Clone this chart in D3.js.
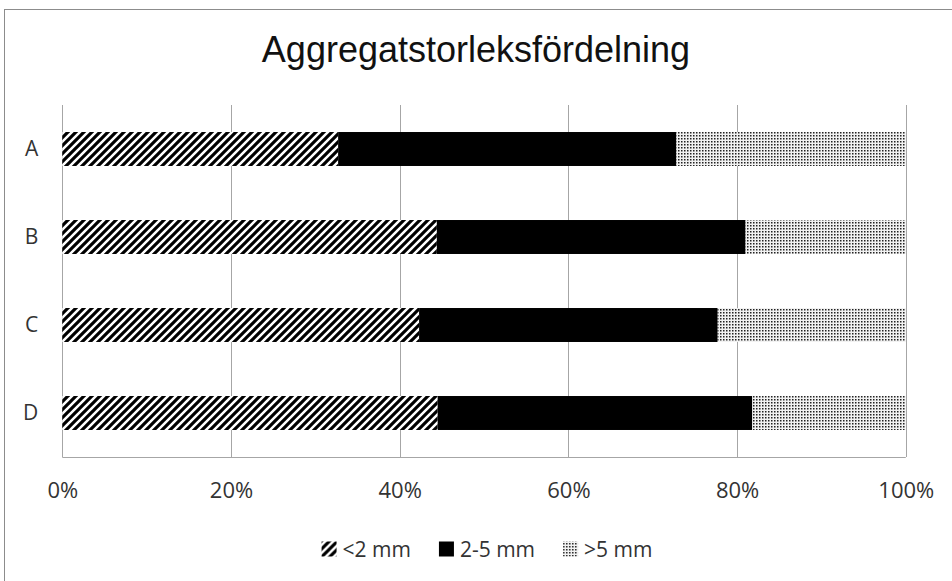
<!DOCTYPE html>
<html>
<head>
<meta charset="utf-8">
<script src="https://cdn.jsdelivr.net/npm/d3@7"></script>
<style>
  body { margin: 0; background: #fff; }
  svg { display: block; }
</style>
</head>
<body>
<svg id="chart" width="952" height="581"></svg>
<script>
// Aggregate size distribution per sample (percent of total)
const categories = ["A", "B", "C", "D"];
const seriesNames = ["<2 mm", "2-5 mm", ">5 mm"];
const fine   = [32.7, 44.4, 42.3, 44.5];   // <2 mm
const medium = [40.1, 36.6, 35.4, 37.3];   // 2-5 mm
const coarse = [27.2, 19.0, 22.3, 18.2];   // >5 mm
const xTicks = [0, 20, 40, 60, 80, 100];
const titleText = "Aggregatstorleksfördelning";

const svg = d3.select("#chart");
const plot = { left: 62.3, right: 905.8, top: 105, bottom: 457 };

// patterns for the three fractions
const defs = svg.append("defs");
const hatch = defs.append("pattern")
  .attr("id", "hatch").attr("patternUnits", "userSpaceOnUse")
  .attr("width", 8).attr("height", 8);
hatch.append("rect").attr("width", 8).attr("height", 8).attr("fill", "#fff");
hatch.append("path")
  .attr("d", "M-2,2 L2,-2 M0,8 L8,0 M6,10 L10,6")
  .attr("stroke", "#000").attr("stroke-width", 3.1);

const dots = defs.append("pattern")
  .attr("id", "dots").attr("patternUnits", "userSpaceOnUse")
  .attr("width", 3).attr("height", 3);
dots.append("rect").attr("width", 3).attr("height", 3).attr("fill", "#f2f2f2");
dots.append("rect").attr("x", 0).attr("y", 0).attr("width", 1).attr("height", 1).attr("fill", "#222");
dots.append("rect").attr("x", 1).attr("y", 0).attr("width", 1).attr("height", 1).attr("fill", "#888");
dots.append("rect").attr("x", 0).attr("y", 1).attr("width", 1).attr("height", 1).attr("fill", "#888");
dots.append("rect").attr("x", 1).attr("y", 1).attr("width", 1).attr("height", 1).attr("fill", "#bbb");

const fills = ["url(#hatch)", "#000", "url(#dots)"];

// outer chart frame
svg.append("rect")
  .attr("x", 4.5).attr("y", 9.5)
  .attr("width", 1000).attr("height", 1000)
  .attr("fill", "#fff").attr("stroke", "#8c8c8c").attr("stroke-width", 1);

// title
svg.append("text")
  .attr("x", 476).attr("y", 62)
  .attr("text-anchor", "middle")
  .attr("font-family", "'Liberation Sans', Arial, sans-serif")
  .attr("font-size", 36)
  .attr("fill", "#111")
  .text(titleText);

const x = d3.scaleLinear().domain([0, 100]).range([plot.left, plot.right]);
const y = d3.scaleBand().domain(categories)
  .range([plot.top, plot.bottom])
  .paddingInner(0.614).paddingOuter(0.307);

// vertical gridlines
svg.append("g").selectAll("line").data(xTicks).join("line")
  .attr("x1", d => Math.round(x(d)) + 0.5).attr("x2", d => Math.round(x(d)) + 0.5)
  .attr("y1", plot.top).attr("y2", plot.bottom)
  .attr("stroke", "#a6a6a6").attr("stroke-width", 1);

// bottom axis line
svg.append("line")
  .attr("x1", plot.left).attr("x2", plot.right)
  .attr("y1", plot.bottom + 0.5).attr("y2", plot.bottom + 0.5)
  .attr("stroke", "#a6a6a6");

// stacked bars
const rows = categories.map((c, i) => ({ cat: c, "<2 mm": fine[i], "2-5 mm": medium[i], ">5 mm": coarse[i] }));
const stacked = d3.stack().keys(seriesNames)(rows);

svg.append("g").selectAll("g").data(stacked).join("g")
  .attr("fill", (d, i) => fills[i])
  .selectAll("rect").data(d => d).join("rect")
  .attr("x", d => x(d[0]))
  .attr("width", d => x(d[1]) - x(d[0]))
  .attr("y", d => y(d.data.cat))
  .attr("height", y.bandwidth());

// x axis labels
const xAxis = d3.axisBottom(x).tickValues(xTicks).tickSize(0).tickPadding(25)
  .tickFormat(d => d + "%");
const gx = svg.append("g").attr("transform", `translate(0,${plot.bottom})`).call(xAxis);
gx.select(".domain").remove();
gx.selectAll("text")
  .attr("font-family", "'Open Sans', sans-serif")
  .attr("font-size", 22)
  .attr("fill", "#333");

// category labels
const yAxis = d3.axisLeft(y).tickSize(0).tickPadding(24);
const gy = svg.append("g").attr("transform", `translate(${plot.left},0)`).call(yAxis);
gy.select(".domain").remove();
gy.selectAll("text")
  .attr("font-family", "'Open Sans', sans-serif")
  .attr("font-size", 21)
  .attr("fill", "#333");

// legend
const legend = svg.append("g").attr("transform", "translate(0,549)");
const items = legend.selectAll("g").data(seriesNames).join("g");
items.append("rect")
  .attr("y", -7.5).attr("width", 15).attr("height", 15)
  .attr("fill", (d, i) => fills[i]);
items.append("text")
  .attr("x", 21).attr("dy", "0.36em")
  .attr("font-family", "'Open Sans', sans-serif")
  .attr("font-size", 21)
  .attr("fill", "#333")
  .text(d => d);
const gap = 28;
const widths = items.nodes().map(n => 21 + d3.select(n).select("text").node().getComputedTextLength());
const total = d3.sum(widths) + gap * (widths.length - 1);
let cx = 487 - total / 2;
items.each(function (d, i) {
  d3.select(this).attr("transform", `translate(${cx},0)`);
  cx += widths[i] + gap;
});
</script>
</body>
</html>
